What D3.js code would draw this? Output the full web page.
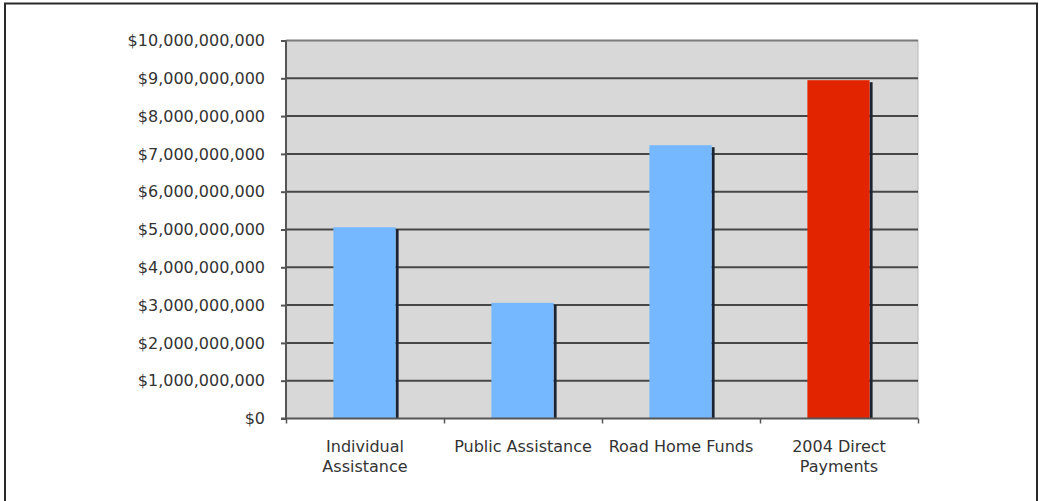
<!DOCTYPE html>
<html>
<head>
<meta charset="utf-8">
<script src="https://cdn.jsdelivr.net/npm/d3@7"></script>
<style>
  html, body { margin: 0; padding: 0; background: #fff; }
  svg { display: block; }
  text { font-family: "DejaVu Sans", Verdana, sans-serif; fill: #333; }
</style>
</head>
<body>
<svg id="chart" width="1039" height="501"></svg>
<script>
const categories = [["Individual", "Assistance"], ["Public Assistance"], ["Road Home Funds"], ["2004 Direct", "Payments"]];
const values = [5060000000, 3060000000, 7230000000, 8950000000];
const barColors = ["#75b8ff", "#75b8ff", "#75b8ff", "#e32400"];
const yTicks = [0, 1e9, 2e9, 3e9, 4e9, 5e9, 6e9, 7e9, 8e9, 9e9, 1e10];

const svg = d3.select("#chart");
const pLeft = 286, pRight = 918, pTop = 40.5, pBottom = 418.5;

// outer frame
svg.append("rect").attr("x", 5).attr("y", 3.5).attr("width", 1032).attr("height", 520)
  .attr("fill", "none").attr("stroke", "#2a2a2a").attr("stroke-width", 2);

const x = d3.scaleBand().domain(d3.range(categories.length)).range([pLeft, pRight])
  .paddingInner(0.6).paddingOuter(0.3);
const y = d3.scaleLinear().domain([0, 1e10]).range([pBottom, pTop]);

// plot background
svg.append("rect").attr("x", pLeft).attr("y", pTop).attr("width", pRight - pLeft).attr("height", pBottom - pTop)
  .attr("fill", "#d8d8d8").attr("stroke", "#b8b8b8").attr("stroke-width", 1);

// gridlines
svg.append("g").selectAll("line").data(yTicks.filter(d => d > 0)).join("line")
  .attr("x1", pLeft).attr("x2", pRight)
  .attr("y1", d => y(d)).attr("y2", d => y(d))
  .attr("stroke", d => d === 1e10 ? "#7a7a7a" : "#474747")
  .attr("stroke-width", 2);

// bar shadows
svg.append("g").selectAll("rect").data(values).join("rect")
  .attr("x", (d, i) => x(i) + x.bandwidth() - 1)
  .attr("y", d => y(d) + 2)
  .attr("width", 3)
  .attr("height", d => pBottom - y(d) - 2)
  .attr("fill", "#1b2430");

// bars
svg.append("g").selectAll("rect").data(values).join("rect")
  .attr("x", (d, i) => x(i))
  .attr("y", d => y(d))
  .attr("width", x.bandwidth() - 1)
  .attr("height", d => pBottom - y(d))
  .attr("fill", (d, i) => barColors[i]);

// y axis
const yAxis = d3.axisLeft(y).tickValues(yTicks).tickSize(5).tickPadding(16)
  .tickFormat(d => "$" + d3.format(",")(d));
const gy = svg.append("g").attr("transform", `translate(${pLeft},0)`).call(yAxis);
gy.select(".domain").attr("stroke", "#555").attr("stroke-width", 2).attr("d", `M0,${pTop}V${pBottom}`);
gy.selectAll(".tick line").attr("stroke", "#555").attr("stroke-width", 2);
gy.selectAll(".tick text").attr("font-size", 16).attr("fill", "#333")
  .style("font-family", '"DejaVu Sans", Verdana, sans-serif');

// x axis
const xEdge = d3.scaleLinear().domain([0, categories.length]).range([pLeft, pRight]);
const gx = svg.append("g").attr("transform", `translate(0,${pBottom})`)
  .call(d3.axisBottom(xEdge).tickValues(d3.range(categories.length + 1)).tickSize(5).tickFormat(""));
gx.select(".domain").attr("stroke", "#555").attr("stroke-width", 2).attr("d", `M${pLeft - 5},0H${pRight}`);
gx.selectAll(".tick line").attr("stroke", "#555").attr("stroke-width", 1.5);

// category labels
const labels = svg.append("g").selectAll("text").data(categories).join("text")
  .attr("text-anchor", "middle").attr("font-size", 16)
  .attr("x", (d, i) => x(i) + x.bandwidth() / 2)
  .attr("y", 452);
labels.selectAll("tspan").data(d => d).join("tspan")
  .attr("x", function() { return this.parentNode.getAttribute("x"); })
  .attr("dy", (d, i) => i === 0 ? 0 : 20)
  .text(d => d);
</script>
</body>
</html>
